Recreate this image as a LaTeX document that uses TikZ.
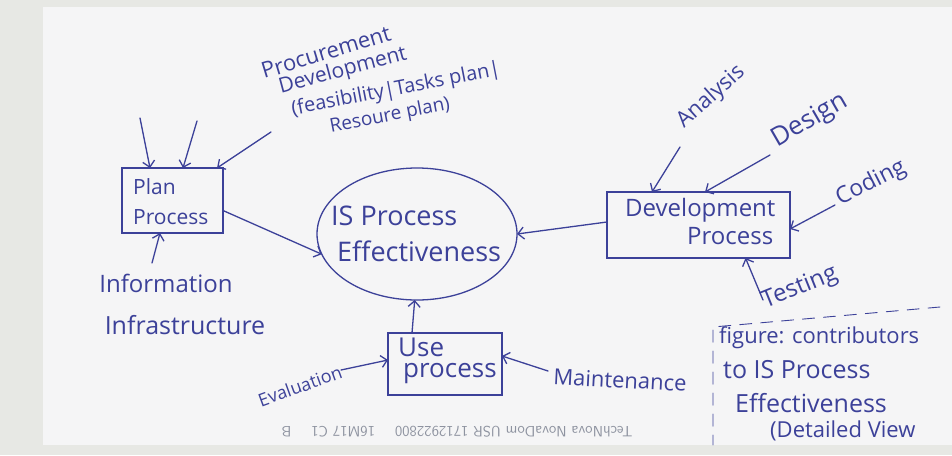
\documentclass[tikz,border=0pt]{standalone}
\usepackage{fontspec}
\setmainfont{Open Sans}
\usetikzlibrary{arrows.meta,shapes.geometric}
\definecolor{ink}{HTML}{3C4199}
\definecolor{margin}{HTML}{E7E8E4}
\definecolor{paper}{HTML}{F5F5F6}
\definecolor{bleed}{HTML}{8E93A0}
\begin{document}
\begin{tikzpicture}[x=1pt,y=-1pt,
  inkline/.style={draw=ink, line width=1.3pt, line cap=round, line join=round},
  arr/.style={inkline, -{Straight Barb[length=6pt,width=12pt,line width=1.3pt]}},
  box/.style={draw=ink, line width=1.3pt, inner sep=0pt, outer sep=0pt},
  hw/.style={text=ink, inner sep=0pt, font=\fontsize{#1}{#1}\selectfont},
  hw/.default=22]
\useasboundingbox (0,0) rectangle (952,455);
\fill[margin] (0,0) rectangle (952,455);
\fill[paper] (43,7) rectangle (952,445);

% boxes and ellipse
\node[box, minimum width=101pt, minimum height=65pt] (plan) at (172.5,200.5) {};
\node[box, minimum width=183pt, minimum height=66pt] (dev) at (698.5,225) {};
\node[box, minimum width=114pt, minimum height=62pt] (use) at (445,364) {};
\node[box, ellipse, minimum width=200pt, minimum height=132pt] (ise) at (417,234) {};

% box texts
\node[hw=21, anchor=west] (planA) at (133,187) {Plan};
\node[hw=21, anchor=west] (planB) at (133,217) {Process};
\node[hw=24, anchor=west] (devA) at (625,210) {Development};
\node[hw=24, anchor=west] (devB) at (687,236) {Process};
\node[hw=26, anchor=west] (useA) at (398,347) {Use};
\node[hw=26, anchor=west] (useB) at (403,374) {process};
\node[hw=27, anchor=west] (iseA) at (331,216) {IS Process};
\node[hw=27, anchor=west] (iseB) at (337,251) {Effectiveness};

% top-left labels
\node[hw=22, rotate=17] (proc) at (326,52) {Procurement};
\node[hw=21, rotate=15] (devl) at (343,71) {Development};
\node[hw=20, rotate=11] (feas) at (396,90) {(feasibility|Tasks plan|};
\node[hw=19, rotate=11] (reso) at (390,116) {Resoure plan)};

% left labels
\node[hw=24] (info) at (166,283) {Information};
\node[hw=25] (infra) at (185,325) {Infrastructure};

% development inputs
\node[hw=22, rotate=42] (anal) at (711,97) {Analysis};
\node[hw=26, rotate=30] (desg) at (810,121) {Design};
\node[hw=23, rotate=27] (codg) at (871,183) {Coding};
\node[hw=24, rotate=22] (test) at (800,288) {Testing};

% use inputs
\node[hw=18, rotate=20] (eval) at (300,386) {Evaluation};
\node[hw=22, rotate=-3] (main) at (620,380) {Maintenance};

% caption
\node[hw=22, anchor=west] (capA) at (719,338) {figure: contributors};
\node[hw=25, anchor=west] (capB) at (723,370) {to IS Process};
\node[hw=25, anchor=west] (capC) at (735,403) {Effectiveness};
\node[hw=22, anchor=west] (capD) at (770,431) {(Detailed View};
\coordinate (cr1) at (940,307);
\coordinate (cr2) at (713,327);
\coordinate (cr3) at (713,445);
\draw[inkline, line width=0.9pt, dash pattern=on 12pt off 9pt] (cr1) -- (cr2) -- (cr3);

% bleed-through print
\node[text=bleed, inner sep=0pt, font=\sffamily\fontsize{15}{15}\selectfont, rotate=180] (bleedtxt) at (457,432) {TechNova NovaDom USR 1712922800 \quad 16M17 C1 \quad B};

% free ends
\coordinate (a1) at (140,118);
\coordinate (a2) at (197,121);
\coordinate (a3) at (271,132);
\coordinate (a4) at (152,263);
\coordinate (a5) at (680,147);
\coordinate (a6) at (770,155);
\coordinate (a7) at (835,205);
\coordinate (a8) at (763,300);
\coordinate (a9) at (341,370);
\coordinate (a10) at (548,371);

% connectors
\draw[arr] (a1) -- ([xshift=28pt]plan.north west);
\draw[arr] (a2) -- ([xshift=61pt]plan.north west);
\draw[arr] (a3) -- ([xshift=95pt]plan.north west);
\draw[arr] (a4) -- ([xshift=38pt]plan.south west);
\draw[arr] ([yshift=-10pt]plan.east) -- (ise.192);
\draw[arr] ([yshift=3pt]dev.west) -- (ise.east);
\draw[arr] ([xshift=-33pt]use.north) -- (ise.268);
\draw[arr] (a5) -- ([xshift=45pt]dev.north west);
\draw[arr] (a6) -- ([xshift=98pt]dev.north west);
\draw[arr] (a7) -- ([yshift=-4pt]dev.east);
\draw[arr] (a8) -- ([xshift=47pt]dev.south);
\draw[arr] (a9) -- ([yshift=4pt]use.west);
\draw[arr] (a10) -- ([yshift=8pt]use.east);
\end{tikzpicture}
\end{document}
